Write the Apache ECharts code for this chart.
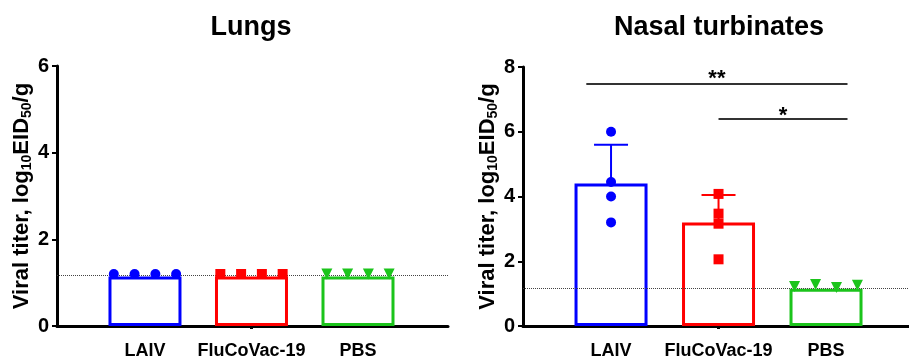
<!DOCTYPE html>
<html><head><meta charset="utf-8">
<script src="https://cdn.jsdelivr.net/npm/echarts@6/dist/echarts.min.js"></script>
<style>html,body{margin:0;padding:0;background:#fff}#c{width:909px;height:360px}</style>
</head><body><div id="c"></div>
<script>
// ---------- data ----------
const categories = ['LAIV', 'FluCoVac-19', 'PBS'];
const panelTitles = ['Lungs', 'Nasal turbinates'];
const yAxisTitle = ['Viral titer, log', '10', 'EID', '50', '/g'];

const lungsLAIV = [1.2, 1.2, 1.2, 1.2];
const lungsFluCoVac = [1.2, 1.2, 1.2, 1.2];
const lungsPBS = [1.2, 1.2, 1.2, 1.2];
const lungsMean = [1.14, 1.14, 1.14];
const lungsSD = [0, 0, 0];
const lungsTicks = [0, 2, 4, 6];

const nasalLAIV = [6.0, 4.45, 4.0, 3.2];
const nasalFluCoVac = [4.08, 3.47, 3.16, 2.06];
const nasalPBS = [1.22, 1.28, 1.19, 1.26];
const nasalMean = [4.4, 3.2, 1.15];
const nasalSD = [1.2, 0.85, 0];
const nasalTicks = [0, 2, 4, 6, 8];

const detectionLimit = 1.18;

const sigLabels = ['**', '*'];
const sigFromGroup = [0, 1];
const sigToGroup = [2, 2];
const sigLevel = [7.48, 6.41];

// ---------- styling / layout ----------
const groupColors = ['#0000FF', '#FF0000', '#1BC41B'];
const groupSymbols = ['circle', 'rect', 'triangle'];
const groupSymbolRotate = [0, 0, 180];
const groupSymbolSize = [10, 10, 11];
const FONT = '"Liberation Sans", Arial, Helvetica, sans-serif';

const panels = [
  { title: panelTitles[0], groups: [lungsLAIV, lungsFluCoVac, lungsPBS], mean: lungsMean, sd: lungsSD, ticks: lungsTicks,
    grid: { left: 57, top: 66, width: 391, height: 260 }, xMin: -0.826, xMax: 2.845, titleX: 251, sig: false },
  { title: panelTitles[1], groups: [nasalLAIV, nasalFluCoVac, nasalPBS], mean: nasalMean, sd: nasalSD, ticks: nasalTicks,
    grid: { left: 523, top: 67, width: 386, height: 261 }, xMin: -0.819, xMax: 2.772, titleX: 719, sig: true }
];
const sigStartShift = [-0.23, 0];
const sigEndShift = [0.2, 0.2];
const sigLabelDistance = [-6, -8];

function xPositions(vals, center) {
  const range = Math.max(...vals) - Math.min(...vals);
  if (range < 0.2) { // tied values are drawn side by side
    const step = 0.195;
    return vals.map((v, i) => center + (i - (vals.length - 1) / 2) * step);
  }
  return vals.map(() => center);
}

const grids = [], xAxes = [], yAxes = [], series = [], graphics = [];

const nameRich = {
  a: { fontSize: 22, fontWeight: 'bold', fontFamily: FONT, color: '#000', lineHeight: 25 },
  s: { fontSize: 14, fontWeight: 'bold', fontFamily: FONT, color: '#000', lineHeight: 15, verticalAlign: 'bottom' }
};
const nameText = `{a|${yAxisTitle[0]}}{s|${yAxisTitle[1]}}{a|${yAxisTitle[2]}}{s|${yAxisTitle[3]}}{a|${yAxisTitle[4]}}`;

panels.forEach((p, pi) => {
  grids.push(p.grid);
  xAxes.push({
    gridIndex: pi, type: 'value', min: p.xMin, max: p.xMax,
    axisLine: { show: true, onZero: false, lineStyle: { color: '#000', width: 3 } },
    splitLine: { show: false },
    axisTick: { show: true, customValues: [1], length: 3, lineStyle: { color: '#000', width: 3 } },
    axisLabel: { customValues: [0, 1, 2], formatter: v => categories[Math.round(v)] || '',
      fontSize: 18, fontWeight: 'bold', fontFamily: FONT, color: '#000', margin: 16 }
  });
  yAxes.push({
    gridIndex: pi, type: 'value', min: p.ticks[0], max: p.ticks[p.ticks.length - 1], interval: 2,
    axisLine: { show: true, onZero: false, lineStyle: { color: '#000', width: 3 } },
    axisTick: { show: true, length: 5, lineStyle: { color: '#000', width: 2 } },
    splitLine: { show: false },
    axisLabel: { fontSize: 20, fontWeight: 'bold', fontFamily: FONT, color: '#000', margin: 8 },
    name: nameText, nameLocation: 'middle', nameGap: 22,
    nameTextStyle: { rich: nameRich }
  });

  // bars (means)
  const markData = [{ yAxis: detectionLimit, lineStyle: { type: 'dotted', color: '#444', width: 1 }, label: { show: false } }];
  if (p.sig) {
    sigLabels.forEach((t, k) => {
      markData.push([
        { coord: [sigFromGroup[k] + sigStartShift[k], sigLevel[k]],
          lineStyle: { type: 'solid', color: '#333', width: 2 },
          label: { show: true, formatter: t, position: 'insideMiddleTop', distance: sigLabelDistance[k],
                   fontSize: 22, fontWeight: 'bold', fontFamily: FONT, color: '#000' } },
        { coord: [sigToGroup[k] + sigEndShift[k], sigLevel[k]] }
      ]);
    });
  }
  series.push({
    type: 'bar', xAxisIndex: pi, yAxisIndex: pi, barWidth: 73, z: 2,
    data: p.mean.map((m, i) => ({ value: [i, m],
      itemStyle: { color: 'rgba(0,0,0,0)', borderColor: groupColors[i], borderWidth: 3 } })),
    markLine: { silent: true, symbol: ['none', 'none'], animation: false, data: markData },
    animation: false
  });

  // error bars (mean + SD)
  series.push({
    type: 'custom', xAxisIndex: pi, yAxisIndex: pi, z: 4, animation: false,
    encode: { x: 0, y: 1 },
    data: p.mean.map((m, i) => [i, m, p.sd[i]]).filter(d => d[2] > 0),
    renderItem: (params, api) => {
      const x = api.value(0), m = api.value(1), s = api.value(2);
      const c = groupColors[Math.round(x)];
      const p0 = api.coord([x, m]), p1 = api.coord([x, m + s]);
      return { type: 'group', children: [
        { type: 'line', shape: { x1: p0[0], y1: p0[1], x2: p1[0], y2: p1[1] }, style: { stroke: c, lineWidth: 2 } },
        { type: 'line', shape: { x1: p1[0] - 17, y1: p1[1], x2: p1[0] + 17, y2: p1[1] }, style: { stroke: c, lineWidth: 2 } }
      ] };
    }
  });

  // individual points
  p.groups.forEach((vals, gi) => {
    const xs = xPositions(vals, gi);
    series.push({
      type: 'scatter', xAxisIndex: pi, yAxisIndex: pi, z: 5, animation: false,
      symbol: groupSymbols[gi], symbolSize: groupSymbolSize[gi], symbolRotate: groupSymbolRotate[gi],
      itemStyle: { color: groupColors[gi], opacity: 1 },
      data: vals.map((v, k) => [xs[k], v])
    });
  });

  graphics.push({ type: 'text', x: p.titleX, y: 28,
    style: { text: p.title, align: 'center', verticalAlign: 'middle', font: `bold 27px ${FONT}`, fill: '#000' } });
});

const chart = echarts.init(document.getElementById('c'), null, { renderer: 'canvas' });
chart.setOption({
  backgroundColor: '#fff',
  animation: false,
  grid: grids, xAxis: xAxes, yAxis: yAxes, series: series, graphic: graphics
});
</script></body></html>
